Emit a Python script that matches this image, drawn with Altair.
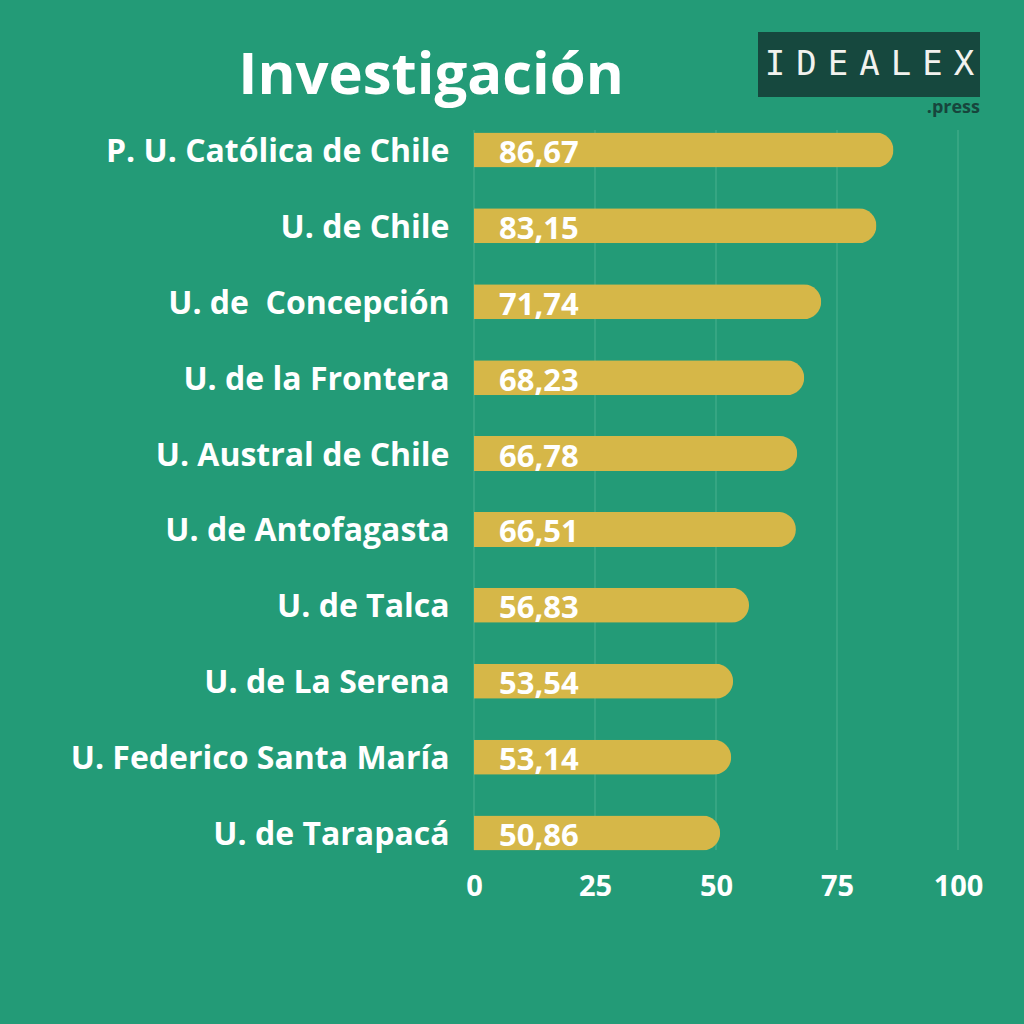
import altair as alt
import pandas as pd

universidades = [
    "P. U. Católica de Chile",
    "U. de Chile",
    "U. de\u00a0 Concepción",
    "U. de la Frontera",
    "U. Austral de Chile",
    "U. de Antofagasta",
    "U. de Talca",
    "U. de La Serena",
    "U. Federico Santa María",
    "U. de Tarapacá",
]
puntajes = [86.67, 83.15, 71.74, 68.23, 66.78, 66.51, 56.83, 53.54, 53.14, 50.86]
ticks = [0, 25, 50, 75, 100]
logo_letras = list("IDEALEX")

BG = "#239B77"
BAR = "#D6B748"
GRID = "#4BB08F"
FONT = "Open Sans"

df = pd.DataFrame({"uni": universidades, "valor": puntajes})
df_ticks = pd.DataFrame({"t": ticks})
df_logo = pd.DataFrame({"letra": logo_letras})
one = pd.DataFrame({"a": [0]})

W, H = 484, 759

x_scale = alt.Scale(domain=[0, 100], nice=False, zero=True)
x_axis = alt.Axis(
    values=ticks, title=None, labelFont=FONT, labelFontSize=29,
    labelFontWeight="bold", labelColor="white", labelPadding=1,
    labelFlush=False, labelOverlap=False,
    ticks=False, domain=False, grid=False,
)
y_enc = alt.Y(
    "uni:N",
    sort=universidades,
    scale=alt.Scale(paddingInner=0.54, paddingOuter=0.27),
    axis=alt.Axis(
        title=None, labelFont=FONT, labelFontSize=32, labelFontWeight="bold",
        labelColor="white", labelPadding=25, labelLimit=600, labelOffset=2,
        ticks=False, domain=False, grid=False,
    ),
)

grid = alt.Chart(df_ticks).mark_rule(color=GRID, strokeWidth=1).encode(
    x=alt.X("t:Q", scale=x_scale, axis=x_axis),
    y=alt.value(18),
    y2=alt.value(738),
)

bars = alt.Chart(df).mark_bar(color=BAR, size=35, cornerRadiusEnd=17.5).encode(
    x=alt.X("valor:Q", scale=x_scale, axis=x_axis),
    y=y_enc,
)

values = alt.Chart(df).transform_calculate(
    lab="replace(format(datum.valor, '.2f'), '.', ',')"
).mark_text(
    align="left", baseline="middle", dy=4, font=FONT, fontSize=31,
    fontWeight="bold", color="white",
).encode(
    x=alt.value(25),
    y=alt.Y("uni:N", sort=universidades),
    text="lab:N",
)

title = alt.Chart(one).mark_text(
    text="Investigación", font=FONT, fontSize=58, fontWeight="bold",
    color="white", align="center", baseline="alphabetic",
).encode(x=alt.value(-43), y=alt.value(-18))

logo_box = alt.Chart(one).mark_rect(color="#16483E").encode(
    x=alt.value(284), x2=alt.value(506), y=alt.value(-80), y2=alt.value(-15)
)

logo_txt = alt.Chart(df_logo).transform_window(
    i="row_number()"
).transform_calculate(
    px="301 + (datum.i - 1) * 31.5"
).mark_text(
    font="DejaVu Sans Mono", fontSize=34, color="#F2F2EE",
    align="center", baseline="middle",
).encode(
    x=alt.X("px:Q", scale=None),
    y=alt.value(-47),
    text="letra:N",
)

logo_press = alt.Chart(one).mark_text(
    text=".press", font=FONT, fontSize=18, fontWeight="bold",
    color="#17453C", align="right", baseline="middle",
).encode(x=alt.value(506), y=alt.value(-4))

chart = alt.layer(grid, bars, values, title, logo_box, logo_txt, logo_press).properties(
    width=W, height=H,
    autosize=alt.AutoSizeParams(type="none"),
    padding={"left": 474, "top": 112, "right": 1024 - 474 - W, "bottom": 1024 - 112 - H},
    background=BG,
).configure_view(stroke=None)

chart.save("out.html", embed_options={"renderer": "svg", "actions": False})
